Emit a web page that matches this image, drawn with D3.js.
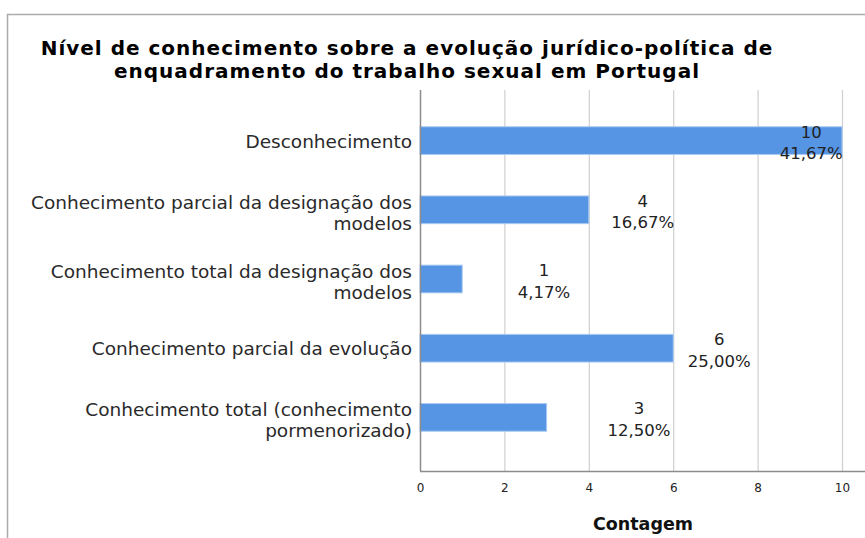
<!DOCTYPE html>
<html>
<head>
<meta charset="utf-8">
<script src="https://cdn.jsdelivr.net/npm/d3@7"></script>
<style>
    body { margin: 0; background: #fff; }
    svg { display: block; }
</style>
</head>
<body>
<div id="chart"></div>
<script>
// Chart values
const categories = [
    ['Desconhecimento'],
    ['Conhecimento parcial da designação dos', 'modelos'],
    ['Conhecimento total da designação dos', 'modelos'],
    ['Conhecimento parcial da evolução'],
    ['Conhecimento total (conhecimento', 'pormenorizado)'],
];
const counts = [10, 4, 1, 6, 3];
const percents = ['41,67%', '16,67%', '4,17%', '25,00%', '12,50%'];
const xTicks = [0, 2, 4, 6, 8, 10];
// where SPSS put each value label, in axis units
const labelAt = [9.27, 5.28, 2.94, 7.09, 5.19];

const titleLines = [
    'Nível de conhecimento sobre a evolução jurídico-política de',
    'enquadramento do trabalho sexual em Portugal',
];

const W = 865, H = 538;
const plot = {left: 420, right: 842, top: 90, bottom: 471};

const svg = d3.select('#chart').append('svg')
    .attr('width', W)
    .attr('height', H);

// outer frame
svg.append('path')
    .attr('d', `M7.5,${H} V14.5 H${W}`)
    .attr('fill', 'none')
    .attr('stroke', '#ababab')
    .attr('stroke-width', 1.5);

// title
svg.append('text')
    .attr('x', 407)
    .attr('y', 55)
    .attr('text-anchor', 'middle')
    .style('font-family', '"DejaVu Sans", sans-serif')
    .style('font-weight', 'bold')
    .style('font-size', '20px')
    .style('letter-spacing', '1px')
    .style('fill', '#000')
    .selectAll('tspan')
    .data(titleLines).enter()
    .append('tspan')
    .attr('x', 407)
    .attr('dy', (d, i) => i === 0 ? 0 : 23)
    .text(d => d);

const x = d3.scaleLinear().domain([0, 10]).range([plot.left, plot.right]);
const y = d3.scaleBand()
    .domain(d3.range(counts.length))
    .range([106, 452])
    .paddingInner(0.6)
    .paddingOuter(0.3);

// grid lines
svg.append('g')
    .selectAll('line')
    .data(xTicks.slice(1)).enter()
    .append('line')
    .attr('x1', d => x(d) + 0.5)
    .attr('x2', d => x(d) + 0.5)
    .attr('y1', plot.top)
    .attr('y2', plot.bottom)
    .attr('stroke', '#cfcfcf')
    .attr('stroke-width', 1.2);

// bars
svg.append('g')
    .selectAll('rect')
    .data(counts).enter()
    .append('rect')
    .attr('x', x(0))
    .attr('y', (d, i) => y(i))
    .attr('width', d => x(d) - x(0))
    .attr('height', y.bandwidth())
    .attr('fill', '#5595e4')
    .attr('stroke', '#a9c9f1')
    .attr('stroke-width', 1);

// value labels
const vlab = svg.append('g')
    .style('font-family', '"DejaVu Sans", sans-serif')
    .style('font-size', '16.5px')
    .style('fill', '#222')
    .attr('text-anchor', 'middle');

vlab.selectAll('text.count')
    .data(counts).enter()
    .append('text')
    .attr('class', 'count')
    .attr('x', (d, i) => x(labelAt[i]))
    .attr('y', (d, i) => y(i) + y.bandwidth() / 2 - 3)
    .text(d => d);

vlab.selectAll('text.pct')
    .data(percents).enter()
    .append('text')
    .attr('class', 'pct')
    .attr('x', (d, i) => x(labelAt[i]))
    .attr('y', (d, i) => y(i) + y.bandwidth() / 2 + 18.5)
    .text(d => d);

// category labels
svg.append('g')
    .style('font-family', '"DejaVu Sans", sans-serif')
    .style('font-size', '18.5px')
    .style('fill', '#2a2a2a')
    .attr('text-anchor', 'end')
    .selectAll('text')
    .data(categories).enter()
    .append('text')
    .attr('y', (d, i) => y(i) + y.bandwidth() / 2 + (d.length === 1 ? 7 : -1))
    .selectAll('tspan')
    .data(d => d).enter()
    .append('tspan')
    .attr('x', 412)
    .attr('dy', (d, i) => i === 0 ? 0 : 21)
    .text(d => d);

// axes
const xAxis = svg.append('g')
    .attr('transform', `translate(0,${plot.bottom})`)
    .call(d3.axisBottom(x).tickValues(xTicks).tickSize(0).tickPadding(12));
xAxis.select('.domain').remove();
xAxis.selectAll('text')
    .style('font-family', '"DejaVu Sans", sans-serif')
    .style('font-size', '12px')
    .style('fill', '#222');

svg.append('line')
    .attr('x1', plot.left)
    .attr('x2', W)
    .attr('y1', plot.bottom + 0.5)
    .attr('y2', plot.bottom + 0.5)
    .attr('stroke', '#8c8c8c')
    .attr('stroke-width', 1.5);

svg.append('line')
    .attr('x1', plot.left + 0.5)
    .attr('x2', plot.left + 0.5)
    .attr('y1', plot.top)
    .attr('y2', plot.bottom)
    .attr('stroke', '#8c8c8c')
    .attr('stroke-width', 1.5);

// axis title
svg.append('text')
    .attr('x', 643)
    .attr('y', 530)
    .attr('text-anchor', 'middle')
    .style('font-family', '"DejaVu Sans", sans-serif')
    .style('font-weight', 'bold')
    .style('font-size', '17.5px')
    .style('fill', '#111')
    .text('Contagem');
</script>
</body>
</html>
